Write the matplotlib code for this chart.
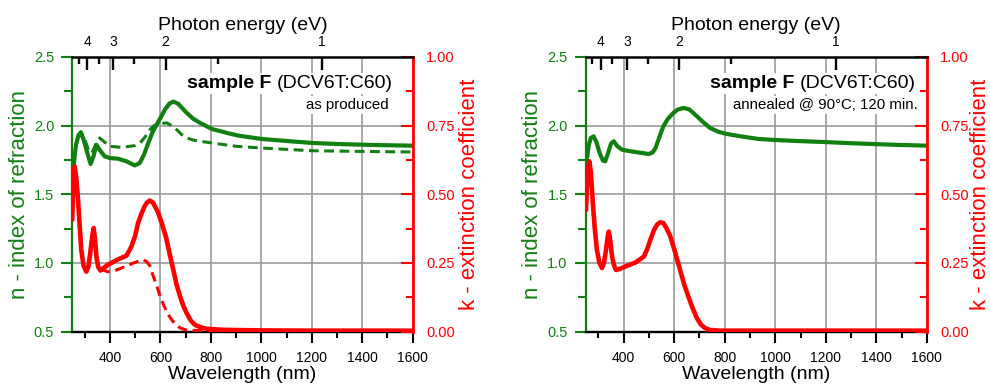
import matplotlib
matplotlib.use('Agg')
import matplotlib.pyplot as plt
from matplotlib.ticker import MultipleLocator, FixedLocator, FormatStrFormatter

plt.rcParams['font.family'] = ['Liberation Sans', 'DejaVu Sans']

# ---------------- data ----------------
# left panel: as produced
wl_n_asprod = [255, 265, 275, 284, 295, 310, 323, 335, 346, 360, 379, 399, 432, 465, 498, 518,
               535, 551, 568, 584, 600, 617, 635, 651, 670, 690, 704, 730, 757, 803, 863, 909,
               1000, 1100, 1200, 1300, 1400, 1500, 1600]
n_asprod = [1.70, 1.86, 1.93, 1.95, 1.90, 1.80, 1.72, 1.78, 1.86, 1.82, 1.776, 1.764, 1.759, 1.74,
            1.71, 1.728, 1.79, 1.87, 1.95, 2.005, 2.056, 2.115, 2.16, 2.175, 2.16, 2.12, 2.093,
            2.05, 2.02, 1.976, 1.947, 1.927, 1.903, 1.888, 1.874, 1.866, 1.861, 1.857, 1.854]

wl_n_asprod_d = [255, 265, 275, 285, 300, 315, 328, 345, 359, 375, 399, 445, 498, 520, 540, 558,
                 575, 598, 625, 645, 664, 684, 704, 730, 757, 823, 902, 1000, 1200, 1400, 1600]
n_asprod_d = [1.70, 1.86, 1.93, 1.955, 1.90, 1.82, 1.80, 1.87, 1.91, 1.885, 1.849, 1.842, 1.854,
              1.875, 1.92, 1.97, 2.00, 2.015, 2.02, 2.0, 1.971, 1.935, 1.910, 1.895, 1.886,
              1.869, 1.849, 1.837, 1.817, 1.812, 1.808]

wl_k_asprod = [250, 255, 260, 266, 273, 280, 286, 295, 306, 315, 323, 330, 335, 340, 346, 353,
               362, 375, 392, 410, 432, 465, 485, 500, 511, 525, 537, 547, 557, 570, 590, 605,
               623, 637, 651, 664, 678, 690, 704, 720, 737, 760, 783, 850, 1000, 1200, 1400, 1600]
k_asprod = [0.407, 0.55, 0.601, 0.56, 0.48, 0.38, 0.297, 0.24, 0.218, 0.24, 0.297, 0.35, 0.377,
            0.34, 0.273, 0.235, 0.222, 0.232, 0.243, 0.252, 0.263, 0.276, 0.31, 0.35, 0.395,
            0.43, 0.456, 0.47, 0.477, 0.47, 0.435, 0.395, 0.34, 0.28, 0.224, 0.17, 0.127, 0.095,
            0.066, 0.04, 0.024, 0.015, 0.01, 0.006, 0.004, 0.003, 0.003, 0.003]

wl_k_asprod_d = [362, 372, 390, 405, 425, 445, 470, 491, 512, 531, 545, 557, 570, 584, 598, 611,
                 628, 645, 660, 678, 700, 730, 800, 1600]
k_asprod_d = [0.222, 0.224, 0.218, 0.218, 0.224, 0.231, 0.24, 0.249, 0.256, 0.261, 0.255, 0.24,
              0.205, 0.17, 0.13, 0.1, 0.065, 0.042, 0.025, 0.013, 0.006, 0.004, 0.003, 0.003]

# right panel: annealed
wl_n_ann = [254, 262, 270, 281, 292, 305, 318, 327, 338, 350, 361, 375, 393, 420, 446, 475, 499,
            515, 526, 540, 557, 575, 597, 615, 637, 660, 690, 715, 742, 775, 809, 850, 888, 934,
            1000, 1100, 1200, 1300, 1400, 1500, 1600]
n_ann = [1.752, 1.86, 1.91, 1.922, 1.88, 1.80, 1.745, 1.74, 1.80, 1.87, 1.886, 1.85, 1.825, 1.815,
         1.808, 1.80, 1.793, 1.805, 1.837, 1.91, 1.995, 2.05, 2.093, 2.118, 2.129, 2.118, 2.068,
         2.025, 1.983, 1.955, 1.939, 1.926, 1.915, 1.903, 1.895, 1.887, 1.88, 1.872, 1.865,
         1.859, 1.854]

wl_k_ann = [251, 257, 264, 270, 277, 285, 294, 304, 314, 322, 330, 336, 341, 347, 354, 362, 370,
            385, 407, 446, 480, 493, 506, 520, 533, 545, 557, 570, 584, 600, 624, 640, 657, 673,
            690, 706, 723, 740, 780, 1600]
k_ann = [0.443, 0.58, 0.62, 0.58, 0.48, 0.38, 0.297, 0.25, 0.231, 0.25, 0.297, 0.34, 0.364, 0.33,
         0.273, 0.24, 0.224, 0.228, 0.237, 0.251, 0.273, 0.3, 0.335, 0.37, 0.39, 0.398, 0.395,
         0.375, 0.348, 0.30, 0.222, 0.17, 0.125, 0.085, 0.048, 0.025, 0.012, 0.006, 0.003, 0.003]

energy_major = [4, 3, 2, 1]
energy_minor = [4.5, 3.5, 2.5, 1.5]
energy_labels = ['4', '3', '2', '1']

# ---------------- style ----------------
GREEN = '#118011'
RED = '#ff0000'
GRID = '#9a9a9a'

fig = plt.figure(figsize=(9.9, 3.85), dpi=100)


def panel(x0px, wpx, n_series, k_series, subtitle, sub_x, klabelpad):
    ax = fig.add_axes([x0px / 990, 53.5 / 385, wpx / 990, 274.5 / 385])
    axk = ax.twinx()
    axt = ax.twiny()

    ax.set_xlim(250, 1600)
    ax.set_ylim(0.5, 2.5)
    axk.set_ylim(0, 1)
    axt.set_xlim(250, 1600)

    ax.set_axisbelow(True)
    ax.grid(True, which='major', color=GRID, lw=1.2)

    for wl, val, ls in n_series:
        if ls == 'solid':
            ax.plot(wl, val, color=GREEN, lw=3.0, solid_capstyle='round', solid_joinstyle='round', zorder=3)
        else:
            ax.plot(wl, val, color=GREEN, lw=2.2, ls=(0, (3.2, 1.8)), zorder=3)
    for wl, val, ls in k_series:
        if ls == 'solid':
            axk.plot(wl, val, color=RED, lw=3.3, solid_capstyle='round', solid_joinstyle='round', zorder=3)
        else:
            axk.plot(wl, val, color=RED, lw=2.2, ls=(0, (3.2, 1.8)), zorder=2)

    # spines
    for a in (axk, axt):
        for s in a.spines.values():
            s.set_visible(False)
    ax.spines['left'].set_color(GREEN)
    ax.spines['left'].set_linewidth(1.6)
    ax.spines['bottom'].set_color('black')
    ax.spines['bottom'].set_linewidth(1.7)
    ax.spines['top'].set_visible(False)
    ax.spines['right'].set_visible(False)
    axt.spines['top'].set_visible(True)
    axt.spines['top'].set_color('black')
    axt.spines['top'].set_linewidth(1.8)
    axk.spines['right'].set_visible(True)
    axk.spines['right'].set_color(RED)
    axk.spines['right'].set_linewidth(2.0)

    # bottom wavelength axis
    ax.xaxis.set_major_locator(MultipleLocator(200))
    ax.xaxis.set_minor_locator(MultipleLocator(100))
    ax.tick_params(axis='x', which='major', direction='out', length=8, width=1.5,
                   labelsize=10, pad=6, colors='black')
    ax.tick_params(axis='x', which='minor', direction='out', length=4.5, width=1.5)
    ax.set_xlabel('Wavelength (nm)', fontsize=14, labelpad=1)

    # left n axis
    ax.yaxis.set_major_locator(MultipleLocator(0.5))
    ax.yaxis.set_minor_locator(MultipleLocator(0.25))
    ax.tick_params(axis='y', which='major', direction='out', length=8, width=1.5,
                   labelsize=10.5, pad=5, colors=GREEN)
    ax.tick_params(axis='y', which='minor', direction='out', length=5.5, width=1.5, colors=GREEN)
    ax.set_ylabel('n - index of refraction', color=GREEN, fontsize=16, labelpad=3)

    # right k axis
    axk.yaxis.set_major_locator(MultipleLocator(0.25))
    axk.yaxis.set_minor_locator(MultipleLocator(0.125))
    axk.yaxis.set_major_formatter(FormatStrFormatter('%.2f'))
    axk.tick_params(axis='y', which='major', direction='in', length=8.4, width=1.5,
                    labelsize=10.5, pad=9.5, colors=RED)
    axk.tick_params(axis='y', which='minor', direction='in', length=4.8, width=1.5, colors=RED)
    axk.set_ylabel('k - extinction coefficient', color=RED, fontsize=16, labelpad=klabelpad)

    # top photon energy axis
    axt.xaxis.set_major_locator(FixedLocator([1240.0 / e for e in energy_major]))
    axt.xaxis.set_minor_locator(FixedLocator([1240.0 / e for e in energy_minor]))
    axt.set_xticklabels(energy_labels)
    axt.tick_params(axis='x', which='major', direction='in', length=9, width=1.7,
                    labelsize=10, pad=6, colors='black')
    axt.tick_params(axis='x', which='minor', direction='in', length=4.8, width=1.7)
    axt.set_xlabel('Photon energy (eV)', fontsize=14, labelpad=3)

    # annotation
    t1 = ax.text(sub_x[0], 0.887, '(DCV6T:C60)', transform=ax.transAxes, ha='right',
                 va='baseline', fontsize=14, zorder=6,
                 bbox=dict(facecolor='white', edgecolor='none', pad=1.5))
    ax.annotate('sample F', xy=(0, 0), xycoords=t1, xytext=(-4, 0), textcoords='offset points',
                ha='right', va='bottom', fontsize=14, fontweight='bold', zorder=6,
                bbox=dict(facecolor='white', edgecolor='none', pad=1.5))
    ax.text(sub_x[1], 0.81, subtitle, transform=ax.transAxes, ha='right', va='baseline',
            fontsize=10.8, zorder=6, bbox=dict(facecolor='white', edgecolor='none', pad=1.5))
    return ax


panel(72.2, 340.5,
      [(wl_n_asprod_d, n_asprod_d, 'dashed'), (wl_n_asprod, n_asprod, 'solid')],
      [(wl_k_asprod_d, k_asprod_d, 'dashed'), (wl_k_asprod, k_asprod, 'solid')],
      'as produced', (0.942, 0.928), 3)
panel(585.8, 341.0,
      [(wl_n_ann, n_ann, 'solid')],
      [(wl_k_ann, k_ann, 'solid')],
      'annealed @ 90°C; 120 min.', (0.968, 0.973), 1)

fig.savefig('out.png', dpi=100)
